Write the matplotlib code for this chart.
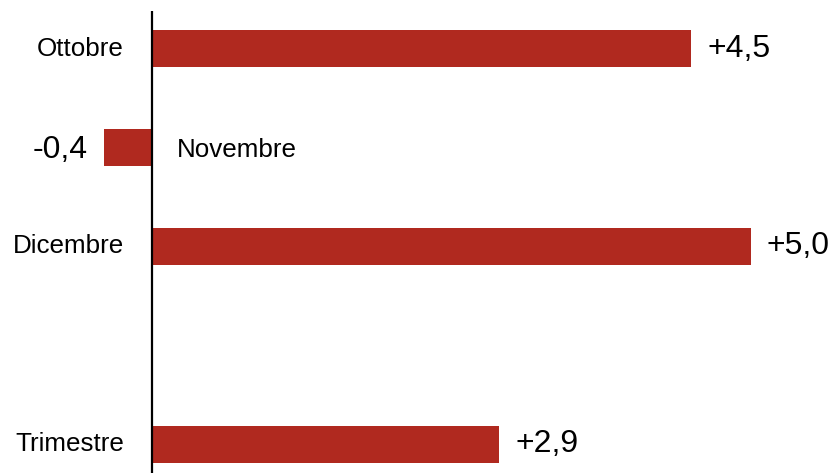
import matplotlib
matplotlib.use("Agg")
from matplotlib import pyplot as plt

mesi = ["Ottobre", "Novembre", "Dicembre", "Trimestre"]
posizioni = [0, 1, 2, 4]
variazioni = [4.5, -0.4, 5.0, 2.9]

plt.rcParams['font.family'] = ['Liberation Sans', 'DejaVu Sans']

fig = plt.figure(figsize=(8.32, 4.73), dpi=100)
ax = fig.add_axes([0, 0, 1, 1])

# scala: 1 unità = ~119.8 px in orizzontale, 99 px in verticale
ax.set_xlim(-152 / 119.8, (832 - 152) / 119.8)
ax.set_ylim(4.288, -0.49)
ax.axis("off")

ax.barh(posizioni, variazioni, height=0.375, color="#b0291f")

# asse dello zero
ax.plot([0, 0], [-0.379, 4.288], color="black", linewidth=1.6, solid_capstyle="butt")

gap = 16 / 119.8
for pos, nome, v in zip(posizioni, mesi, variazioni):
    testo = f"{v:+.1f}".replace(".", ",")
    if v >= 0:
        ax.text(-28 / 119.8, pos, nome, ha="right", va="center", fontsize=18.7)
        ax.text(v + gap, pos, testo, ha="left", va="center", fontsize=23)
    else:
        ax.text(25 / 119.8, pos + 0.03, nome, ha="left", va="center", fontsize=18.7)
        ax.text(v - gap, pos + 0.03, testo, ha="right", va="center", fontsize=23)

fig.savefig("out.png", dpi=100)
plt.close(fig)
